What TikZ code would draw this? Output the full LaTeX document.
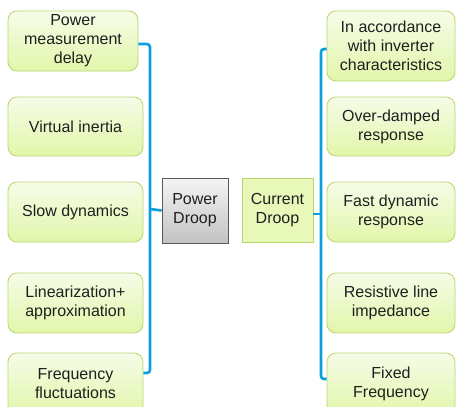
\documentclass[tikz,border=0pt]{standalone}
\usepackage{fontspec}
\setmainfont{Liberation Sans}
\definecolor{leaftop}{RGB}{246,252,232}
\definecolor{leafbottom}{RGB}{226,246,170}
\definecolor{leafline}{RGB}{184,214,112}
\definecolor{currentfill}{RGB}{232,248,184}
\definecolor{busblue}{RGB}{10,158,222}
\begin{document}
\begin{tikzpicture}[x=1pt,y=-1pt,
  font=\fontsize{16}{19}\selectfont,
  every node/.style={text=black!88, align=center, inner sep=0pt},
  leaf/.style={draw=leafline, line width=0.8pt, rounded corners=9pt,
    top color=leaftop, bottom color=leafbottom},
  powerbox/.style={draw=black!65, line width=0.8pt, top color=black!4, bottom color=black!24},
  currentbox/.style={draw=leafline, line width=0.8pt, fill=currentfill},
  bus/.style={draw=busblue, line width=2.6pt, rounded corners=3pt}]
\useasboundingbox (0,0) rectangle (456,407);
\clip (0,0) rectangle (456,407);

% causes of the power droop scheme
\node[leaf, minimum width=130pt, minimum height=60pt] (L1) at (73,41) {Power\\measurement\\delay};
\node[leaf, minimum width=135pt, minimum height=59pt] (L2) at (75.5,126.5) {Virtual inertia};
\node[leaf, minimum width=135pt, minimum height=60pt] (L3) at (75.5,212) {Slow dynamics};
\node[leaf, minimum width=135pt, minimum height=60pt] (L4) at (75.5,303) {Linearization+\\approximation};
\node[leaf, minimum width=135pt, minimum height=62pt] (L5) at (75.5,384) {Frequency\\fluctuations};

% the two droop schemes
\node[powerbox, minimum width=66pt, minimum height=65pt] (PD) at (195,210.5) {Power\\Droop};
\node[currentbox, minimum width=71pt, minimum height=64pt] (CD) at (277.5,210) {Current\\Droop};

% features of the current droop scheme
\node[leaf, minimum width=128pt, minimum height=70pt] (R1) at (391,46) {In accordance\\with inverter\\characteristics};
\node[leaf, minimum width=128pt, minimum height=59pt] (R2) at (391,126.5) {Over-damped\\response};
\node[leaf, minimum width=128pt, minimum height=60pt] (R3) at (391,212) {Fast dynamic\\response};
\node[leaf, minimum width=128pt, minimum height=60pt] (R4) at (391,303) {Resistive line\\impedance};
\node[leaf, minimum width=128pt, minimum height=62pt] (R5) at (391,384) {Fixed\\Frequency};

% brackets
\coordinate (lbus) at (150,209);
\coordinate (rbus) at (321,214);
\draw[bus] ([yshift=-3pt]L1.east) -| (lbus) |- ([yshift=11pt]L5.east);
\draw[bus] (lbus) -- (PD.west);
\draw[bus] ([yshift=-3pt]R1.west) -| (rbus) |- ([yshift=5pt]R5.west);
\draw[bus] (CD.east |- rbus) -- (rbus);
\end{tikzpicture}
\end{document}
